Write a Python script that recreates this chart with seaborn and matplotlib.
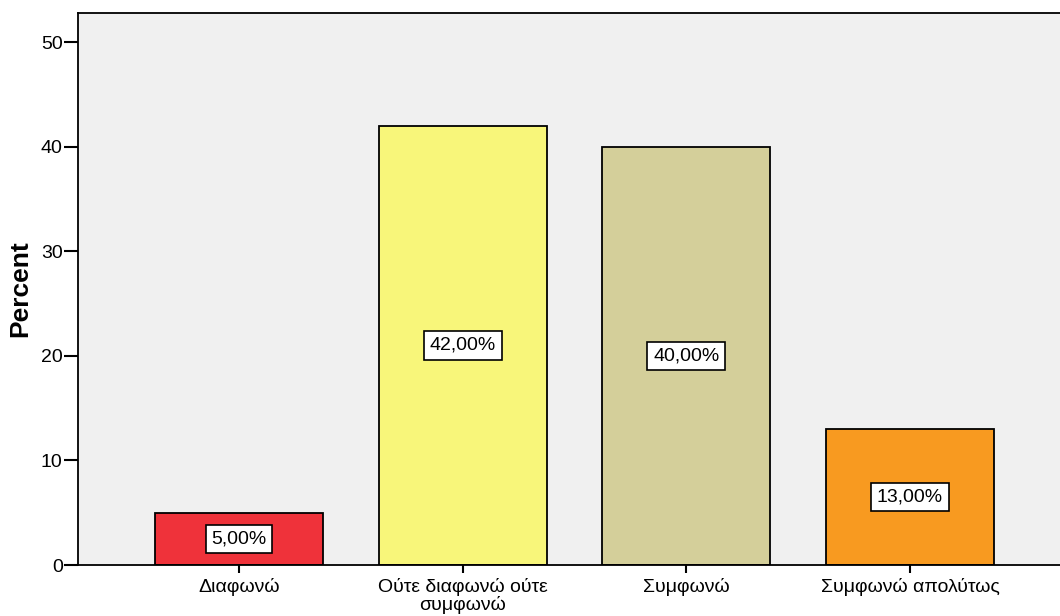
import numpy as np
import pandas as pd
import seaborn as sns
import matplotlib.pyplot as plt

categories = ['Διαφωνώ', 'Ούτε διαφωνώ ούτε\nσυμφωνώ', 'Συμφωνώ', 'Συμφωνώ απολύτως']
percent = [5.0, 42.0, 40.0, 13.0]
bar_colors = ['#EF323A', '#F8F67A', '#D4CF9A', '#F89A20']

sns.set_style('white')
plt.rcParams['font.family'] = ['Liberation Sans', 'DejaVu Sans']
plt.rcParams['text.color'] = 'black'
plt.rcParams['xtick.color'] = 'black'
plt.rcParams['ytick.color'] = 'black'
plt.rcParams['axes.labelcolor'] = 'black'

df = pd.DataFrame({'category': categories, 'percent': percent})

fig = plt.figure(figsize=(10.6, 6.16), dpi=100)
ax = fig.add_axes([78 / 1060, 51 / 616, 1 - 78 / 1060 + 0.002, (565 - 13) / 616])
ax.set_facecolor('#F0F0F0')

sns.barplot(data=df, x='category', y='percent', hue='category', palette=bar_colors,
            legend=False, width=0.75, edgecolor='black', linewidth=1.3, ax=ax,
            saturation=1)

# value boxes in the middle of each bar
for i, v in enumerate(percent):
    ax.text(i, v / 2, f'{v:.2f}%'.replace('.', ','), ha='center', va='center', fontsize=14,
            bbox=dict(boxstyle='square,pad=0.3', fc='white', ec='black', lw=1.2))

ax.set_xlim(-0.72, 3.68)
ax.set_ylim(0, 52.8)
ax.set_yticks([0, 10, 20, 30, 40, 50])
ax.set_xlabel('')
ax.set_ylabel('Percent', fontsize=19, fontweight='bold', labelpad=6)
ax.tick_params(axis='y', direction='out', length=10, width=1.5, labelsize=14, left=True, pad=1)
ax.tick_params(axis='x', direction='out', length=6, width=1.5, labelsize=14, bottom=True, pad=3)
for lbl in ax.get_xticklabels():
    lbl.set_linespacing(1.0)
for side in ['left', 'bottom', 'top']:
    ax.spines[side].set_visible(True)
    ax.spines[side].set_color('black')
    ax.spines[side].set_linewidth(1.3)
ax.spines['right'].set_visible(False)

fig.savefig('out.png', dpi=100)
